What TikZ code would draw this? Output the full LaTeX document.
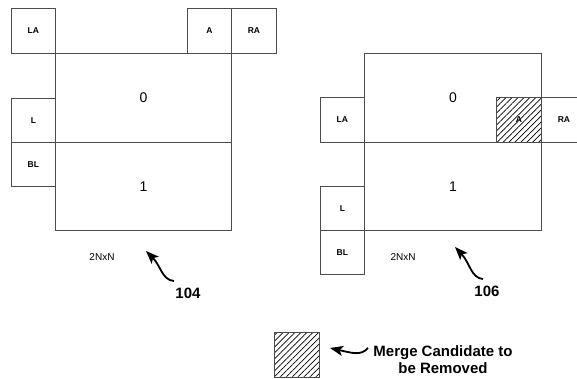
\documentclass[tikz,border=0pt]{standalone}
\usepackage{fontspec}
\setmainfont{Liberation Sans}
\usetikzlibrary{patterns.meta,arrows.meta}
\begin{document}
\begin{tikzpicture}[x=1pt,y=-1pt,
  cell/.style={draw=black!70, line width=0.8pt, inner sep=0pt, anchor=north west,
    minimum width=44pt, minimum height=45pt, font=\bfseries\fontsize{8.5}{9}\selectfont},
  block/.style={draw=black!70, line width=0.8pt, inner sep=0pt, anchor=north west,
    minimum width=176pt, minimum height=89pt, font=\fontsize{14}{16}\selectfont},
  hatch/.style={pattern={Lines[angle=45,distance=4.2pt,line width=0.7pt]}, pattern color=black},
  bigarrow/.style={line width=1.8pt, -{Stealth[length=13pt,width=10pt,inset=3pt]}},
  ref/.style={font=\bfseries\fontsize{15}{17}\selectfont},
  small/.style={font=\fontsize{10}{11}\selectfont}
]
\useasboundingbox (0,0) rectangle (577,378);
% ---------- left: 104 ----------
\node[block] (l0) at (55,53) {0};
\node[block, minimum height=88pt] (l1) at (55,142) {1};
\node[cell] (lLA) at (11,8) {LA};
\node[cell] (lA) at (187,8) {A};
\node[cell, minimum width=45pt] (lRA) at (231,8) {RA};
\node[cell, minimum height=44pt] (lL) at (11,98) {L};
\node[cell, minimum height=44pt] (lBL) at (11,142) {BL};
\node[small] (l2n) at (102,257) {2NxN};
\node[ref] (n104) at (188,293) {104};
\coordinate (t104) at (174,281);
\coordinate (h104) at (146,251);
\draw[bigarrow] (t104) .. controls (162,280) and (161,266) .. (h104);
% ---------- right: 106 ----------
\node[block, minimum width=177pt] (r0) at (364,53) {0};
\node[block, minimum width=177pt, minimum height=88pt] (r1) at (364,142) {1};
\node[cell] (rLA) at (320,97) {LA};
\node[cell, minimum width=45pt, hatch] (rA) at (496,97) {A};
\node[cell, minimum width=45pt] (rRA) at (541,97) {RA};
\node[cell, minimum height=44pt] (rL) at (320,186) {L};
\node[cell, minimum height=44pt] (rBL) at (320,230) {BL};
\node[small] (r2n) at (403,257) {2NxN};
\node[ref] (n106) at (487,291) {106};
\coordinate (t106) at (483,279);
\coordinate (h106) at (455,247);
\draw[bigarrow] (t106) .. controls (471,278) and (470,263) .. (h106);
% ---------- legend ----------
\node[cell, minimum width=45pt, hatch] (leg) at (274,332) {};
\node[ref, align=center] (legtext) at (443,360) {Merge Candidate to\\be Removed};
\coordinate (tleg) at (368,348);
\coordinate (hleg) at (330,348);
\draw[bigarrow] (tleg) .. controls (361,356) and (352,353) .. (hleg);
\end{tikzpicture}
\end{document}
